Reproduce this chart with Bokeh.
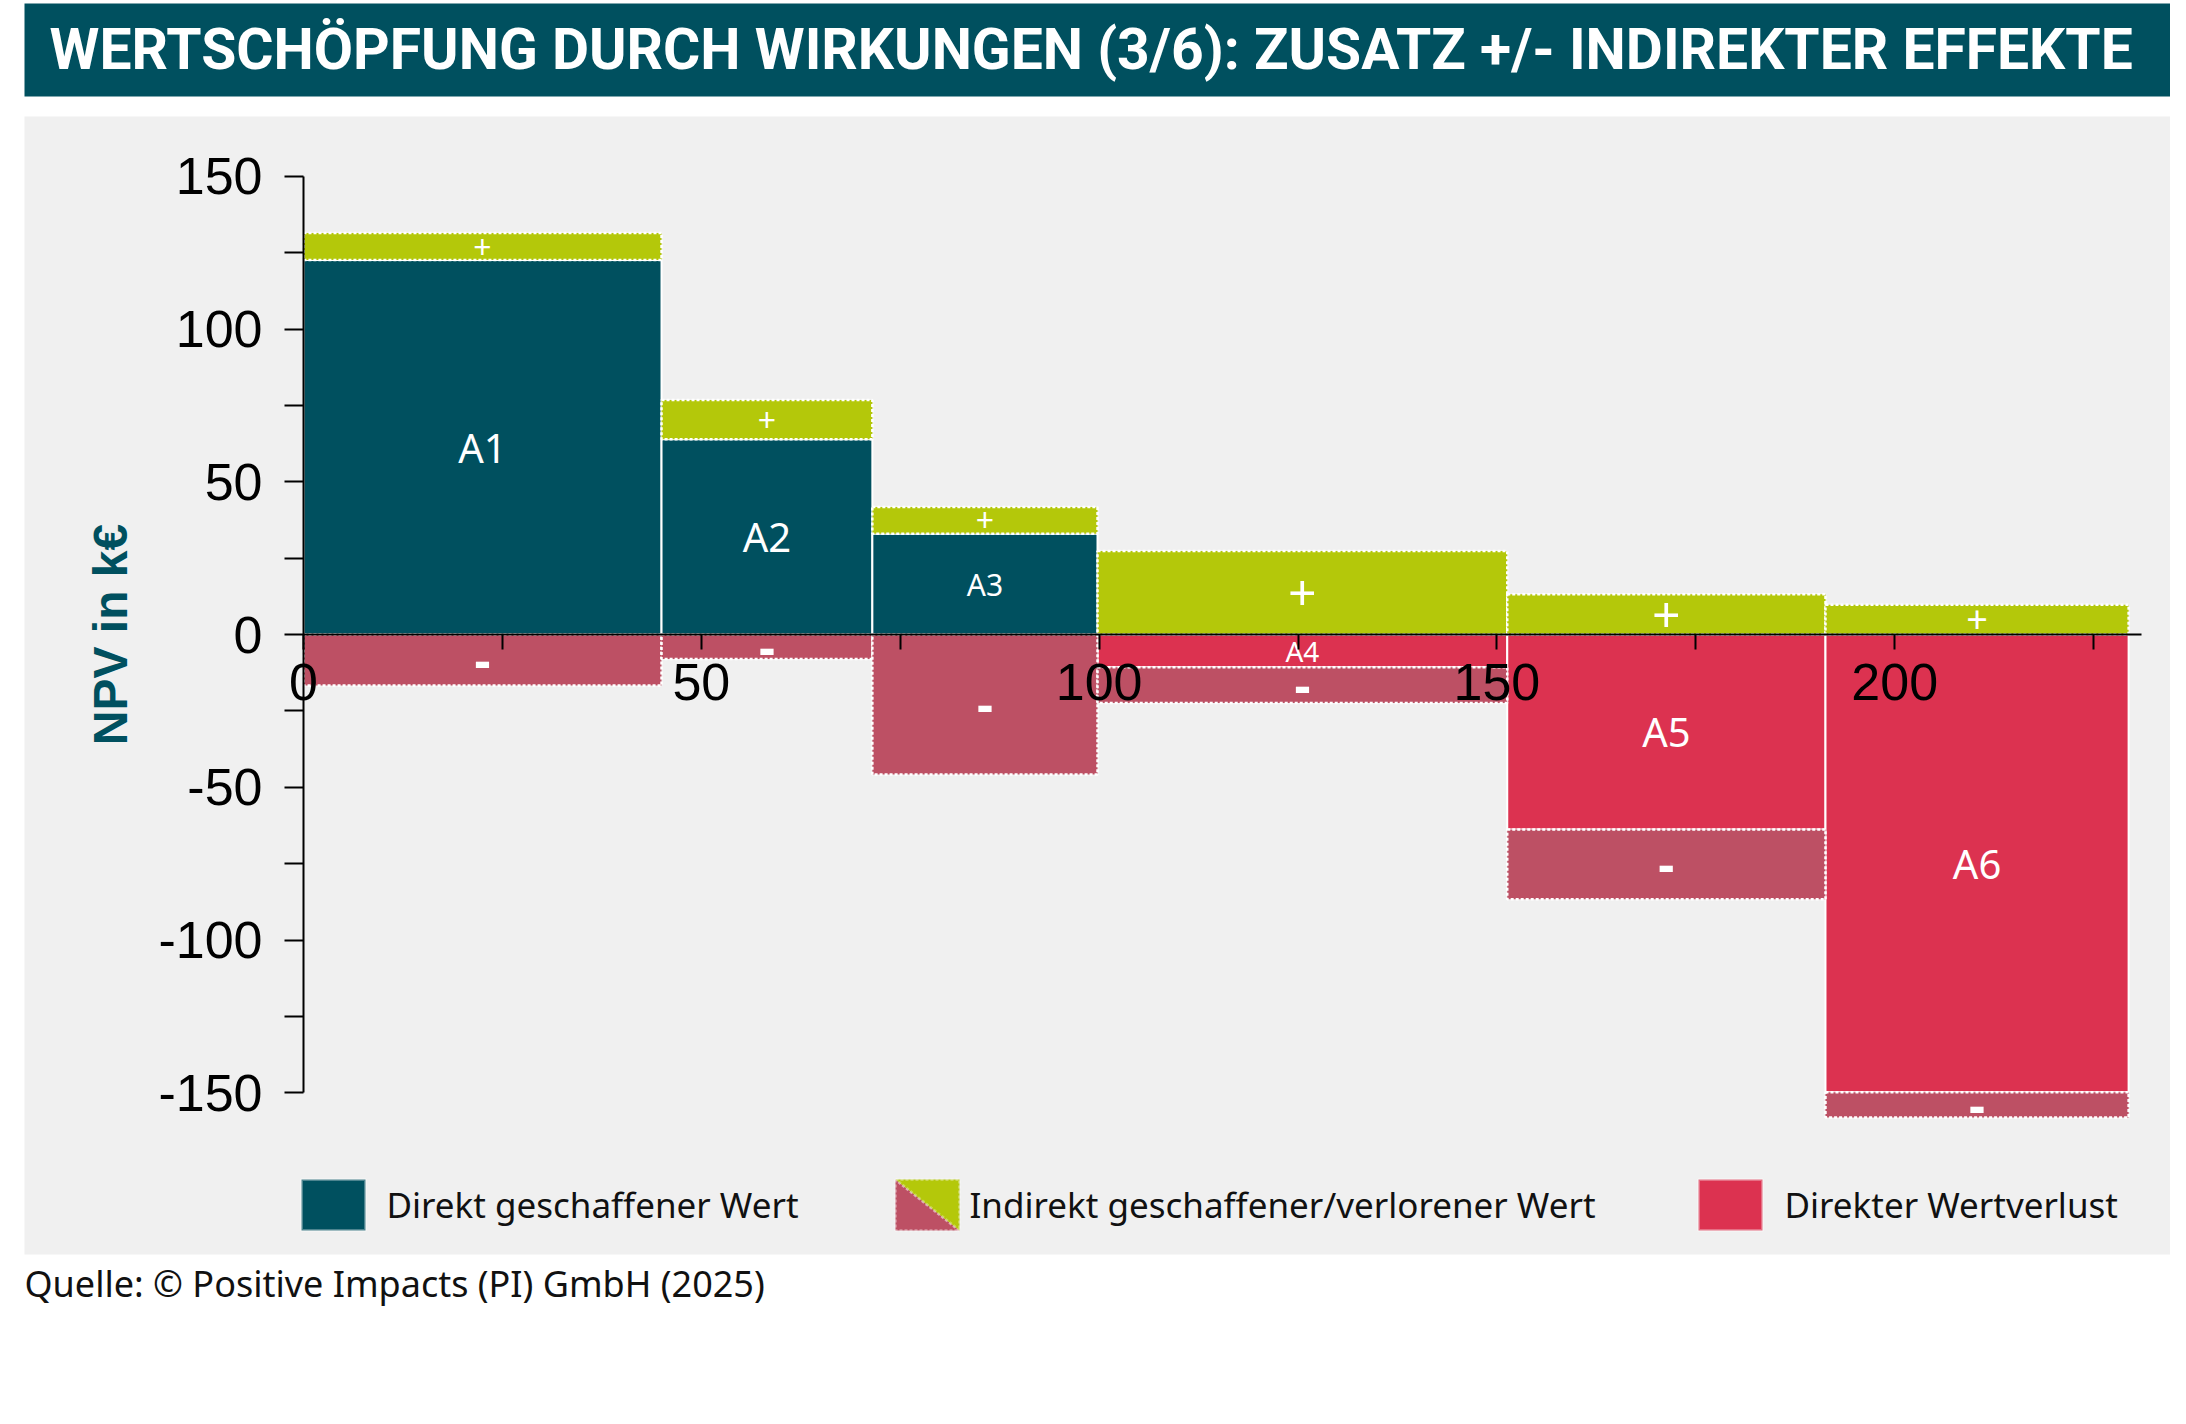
import numpy as np
from bokeh.plotting import figure
from bokeh.models import (ColumnDataSource, Range1d, LinearAxis, FixedTicker,
                          Label, BoxAnnotation, PolyAnnotation)
from bokeh.core.properties import value, field
from bokeh.embed import file_html
from bokeh.resources import INLINE

# ---------------- data ----------------
measures = ["A1", "A2", "A3", "A4", "A5", "A6"]
widths = [45.0, 26.5, 28.3, 51.5, 40.0, 38.1]          # x extent of each measure
direct = [122.6, 63.9, 33.0, -10.7, -63.8, -149.8]      # direct NPV (k€)
indirect_plus = [8.8, 12.9, 8.7, 27.3, 13.2, 9.7]       # indirect created value
indirect_minus = [-16.7, -8.0, -45.8, -11.7, -22.9, -8.3]  # indirect lost value

x_ticks = [0, 50, 100, 150, 200]
x_minor_ticks = [25, 75, 125, 175, 225]
y_ticks = [-150, -100, -50, 0, 50, 100, 150]
y_minor_ticks = [-125, -75, -25, 25, 75, 125]

title_text = "WERTSCHÖPFUNG DURCH WIRKUNGEN (3/6): ZUSATZ +/- INDIREKTER EFFEKTE"
y_label = "NPV in k€"
legend_labels = ["Direkt geschaffener Wert",
                 "Indirekt geschaffener/verlorener Wert",
                 "Direkter Wertverlust"]
source_text = "Quelle: © Positive Impacts (PI) GmbH (2025)"

# ---------------- styles / layout ----------------
TEAL = "#00505F"
GREEN = "#B4C80A"
RED = "#DC3250"
MUTED = "#BD5064"
PANEL = "#F0F0F0"
FONT = "Noto Sans"
AXFONT = "Liberation Sans"

label_sizes = ["40px", "40px", "30px", "28px", "40px", "40px"]
plus_sizes = ["32px", "32px", "32px", "50px", "50px", "38px"]
minus_sizes = ["50px"] * 6

W, H = 2170, 1400
PX0, SX = 303.0, 7.956   # canvas px of x=0, px per unit
PY0, SY = 634.0, 3.055   # canvas px of y=0, px per unit


def dx(px):
    return (px - PX0) / SX


def dy(py):
    return (PY0 - py) / SY


# ---------------- derived geometry from data ----------------
w = np.array(widths)
right = np.cumsum(w)
left = right - w
cx = (left + right) / 2
d = np.array(direct)
d_top = np.maximum(d, 0)
d_bot = np.minimum(d, 0)
p_bot = d_top
p_top = p_bot + np.array(indirect_plus)
m_top = d_bot
m_bot = m_top + np.array(indirect_minus)

direct_src = ColumnDataSource(dict(
    left=left, right=right, top=d_top, bottom=d_bot, cx=cx,
    cy=(d_top + d_bot) / 2,
    color=[TEAL if v > 0 else RED for v in direct],
    label=measures, size=label_sizes))
plus_src = ColumnDataSource(dict(
    left=left, right=right, top=p_top, bottom=p_bot, cx=cx,
    cy=(p_top + p_bot) / 2, label=["+"] * len(measures), size=plus_sizes))
minus_src = ColumnDataSource(dict(
    left=left, right=right, top=m_top, bottom=m_bot, cx=cx,
    cy=(m_top + m_bot) / 2, label=["-"] * len(measures), size=minus_sizes))

p = figure(width=W, height=H,
           x_range=Range1d(dx(0), dx(W)), y_range=Range1d(dy(H), dy(0)),
           output_backend="svg", toolbar_location=None,
           x_axis_location=None, y_axis_location=None,
           min_border=0, background_fill_color="white",
           border_fill_color="white", outline_line_color=None)
p.grid.visible = False

# background decorations
p.add_layout(BoxAnnotation(left=dx(24), right=dx(W), top=dy(3), bottom=dy(96),
                           fill_color=TEAL, fill_alpha=1, line_color=None,
                           level="underlay"))
p.add_layout(BoxAnnotation(left=dx(24), right=dx(W), top=dy(116), bottom=dy(1254),
                           fill_color=PANEL, fill_alpha=1, line_color=None,
                           level="underlay"))

# bars
p.quad(left="left", right="right", top="top", bottom="bottom", source=direct_src,
       fill_color="color", line_color="white", line_width=2)
p.quad(left="left", right="right", top="top", bottom="bottom", source=plus_src,
       fill_color=GREEN, line_color="white", line_width=2.5, line_dash="3 2")
p.quad(left="left", right="right", top="top", bottom="bottom", source=minus_src,
       fill_color=MUTED, line_color="white", line_width=2.5, line_dash="3 2")

p.text(x="cx", y="cy", text="label", source=direct_src, text_font=value(FONT),
       text_font_size=field("size"), text_color="white",
       text_align="center", text_baseline="middle")
p.text(x="cx", y="cy", text="label", source=plus_src, text_font=value(FONT),
       text_font_size=field("size"), text_color="white",
       text_align="center", text_baseline="middle")
p.text(x="cx", y="cy", text="label", source=minus_src, text_font=value(FONT),
       text_font_size=field("size"), text_font_style="bold", text_color="white",
       text_align="center", text_baseline="middle")

# axes crossing at the origin
xaxis = LinearAxis(fixed_location=0, bounds=(0, 231),
                   ticker=FixedTicker(ticks=x_ticks, minor_ticks=x_minor_ticks),
                   axis_line_color="black", axis_line_width=2,
                   major_tick_in=0, major_tick_out=15, minor_tick_in=0, minor_tick_out=15,
                   major_tick_line_width=2, minor_tick_line_width=2,
                   major_tick_line_color="black", minor_tick_line_color="black",
                   major_label_text_font=AXFONT, major_label_text_font_size="52px",
                   major_label_text_color="black", major_label_standoff=14,
                   major_label_overrides={t: str(t) for t in x_ticks})
p.add_layout(xaxis, "below")

yaxis = LinearAxis(fixed_location=0, bounds=(-150, 150),
                   ticker=FixedTicker(ticks=y_ticks, minor_ticks=y_minor_ticks),
                   axis_line_color="black", axis_line_width=2,
                   major_tick_in=0, major_tick_out=19, minor_tick_in=0, minor_tick_out=19,
                   major_tick_line_width=2, minor_tick_line_width=2,
                   major_tick_line_color="black", minor_tick_line_color="black",
                   major_label_text_font=AXFONT, major_label_text_font_size="52px",
                   major_label_text_color="black", major_label_standoff=22,
                   major_label_overrides={t: str(t) for t in y_ticks},
                   axis_label=y_label, axis_label_text_font=AXFONT,
                   axis_label_text_font_size="48px", axis_label_text_font_style="bold",
                   axis_label_text_color=TEAL, axis_label_standoff=18)
p.add_layout(yaxis, "left")

# title and source
p.add_layout(Label(x=dx(49), y=dy(49), text=title_text, text_font="Roboto",
                   text_font_size="57px", text_font_style="bold", text_color="white",
                   text_baseline="middle", text_align="left"))
p.add_layout(Label(x=dx(24), y=dy(1283), text=source_text, text_font=FONT,
                   text_font_size="36px", text_color="#111111",
                   text_baseline="middle", text_align="left"))

# legend
icon_left_px = [301, 895, 1698]
label_x_px = [386, 969, 1784]
icon_w, icon_top, icon_bot = 64, 1179, 1230
for i, lab in enumerate(legend_labels):
    l0 = icon_left_px[i]
    if i == 1:
        p.add_layout(PolyAnnotation(
            xs=[dx(l0), dx(l0), dx(l0 + icon_w)],
            ys=[dy(icon_top), dy(icon_bot), dy(icon_bot)],
            fill_color=MUTED, fill_alpha=1, line_color="white",
            line_width=3, line_dash="3 2"))
        p.add_layout(PolyAnnotation(
            xs=[dx(l0), dx(l0 + icon_w), dx(l0 + icon_w)],
            ys=[dy(icon_top), dy(icon_top), dy(icon_bot)],
            fill_color=GREEN, fill_alpha=1, line_color="white",
            line_width=3, line_dash="3 2"))
    else:
        p.add_layout(BoxAnnotation(
            left=dx(l0), right=dx(l0 + icon_w), top=dy(icon_top), bottom=dy(icon_bot),
            fill_color=TEAL if i == 0 else RED, fill_alpha=1,
            line_color="white", line_width=3))
    p.add_layout(Label(x=dx(label_x_px[i]), y=dy(1204), text=lab, text_font=FONT,
                       text_font_size="35px", text_color="#111111",
                       text_baseline="middle", text_align="left"))

open("out.html", "w").write(file_html(p, INLINE))
